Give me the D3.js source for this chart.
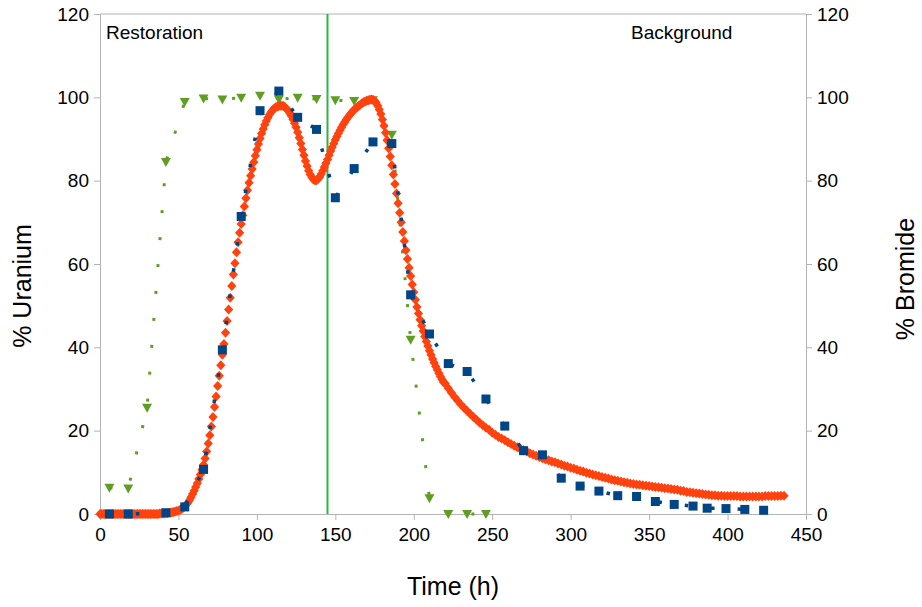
<!DOCTYPE html>
<html>
<head>
<meta charset="utf-8">
<script src="https://cdn.jsdelivr.net/npm/d3@7"></script>
<style>
  body { margin: 0; background: #fff; }
  text { font-family: "Liberation Sans", Arial, sans-serif; fill: #000; }
</style>
</head>
<body>
<svg id="chart" width="922" height="607"></svg>
<script>
// uranium data (blue squares), % of max
const uTime = [6,18,42,54,66,78,90,102,114,126,138,150,162,174,186,198,210,222,234,246,258,270,282,294,306,318,330,342,354,366,378,387,399,411,423];
const uranium = [0,0,0.3,1.7,10.7,39.4,71.4,96.8,101.5,95.2,92.3,75.9,82.9,89.3,88.9,52.6,43.2,36.1,34.2,27.6,21.1,15.2,14.2,8.6,6.7,5.5,4.4,4.2,3.0,2.3,1.9,1.4,1.3,1.1,0.9];

// bromide data (green triangles), right axis
const brTime = [6,18,30,42,54,66,78,90,102,114,126,138,150,162,174,186,198,210,222,234,246];
const bromide = [6.3,6.1,25.5,84.5,98.9,99.7,99.5,99.9,100.4,99.5,99.9,99.6,99.3,99.1,99.3,91,41.8,3.8,0,0,0];

// model curve (orange diamonds): hourly from t=0 to 219
const modelA = [
  0,0,0,0,0,0,0,0,0,0,
  0,0,0,0,0,0,0,0,0,0,
  0,0,0,0,0,0,0,0,0,0,
  0,0,0,0,0,0,0,0,0.1,0.1,
  0.1,0.1,0.2,0.2,0.3,0.3,0.4,0.5,0.6,0.7,
  0.8,1.0,1.2,1.5,1.8,2.2,2.7,3.3,4.0,4.8,
  5.6,6.5,7.4,8.4,9.5,10.6,11.8,13.3,15.0,16.9,
  18.9,21.0,23.3,25.7,28.2,30.7,33.2,35.7,38.2,40.8,
  43.5,46.3,49.1,51.9,54.7,57.5,60.2,62.8,65.2,67.5,
  69.6,71.7,73.8,75.8,77.7,79.5,81.2,82.8,84.4,86.0,
  87.4,88.8,90.1,91.3,92.4,93.4,94.3,95.1,95.8,96.4,
  96.9,97.3,97.6,97.8,97.9,98.0,98.0,97.9,97.6,97.2,
  96.8,96.2,95.5,94.7,93.8,92.8,91.6,90.3,88.9,87.5,
  86.1,84.7,83.5,82.4,81.5,80.8,80.3,80.1,80.1,80.4,
  80.9,81.6,82.4,83.3,84.2,85.1,86.1,87.1,88.0,88.9,
  89.8,90.6,91.4,92.1,92.8,93.5,94.1,94.7,95.2,95.7,
  96.2,96.6,97.0,97.4,97.7,98.0,98.3,98.6,98.8,99.0,
  99.2,99.3,99.4,99.5,99.4,99.2,98.7,98.0,97.1,96.0,
  94.7,93.2,91.5,89.7,87.8,85.8,83.7,81.5,79.2,76.9,
  74.6,72.3,70.0,67.7,65.5,63.3,61.2,59.1,57.1,55.1,
  53.2,51.4,49.7,48.1,46.6,45.2,43.9,42.6,41.4,40.3,
  39.2,38.2,37.2,36.3,35.4,34.6,33.8,33.0,32.3,31.6
];
// model curve: every 2 h from t=220 to 436
const modelB = [
  31.3,30.2,29.1,28.1,27.2,26.3,25.5,24.7,24.0,23.3,
  22.6,21.9,21.3,20.7,20.2,19.5,19.0,18.5,18.1,17.7,
  17.2,16.8,16.4,16.0,15.6,15.3,15.0,14.6,14.3,14.0,
  13.7,13.4,13.1,12.9,12.6,12.4,12.1,11.9,11.6,11.4,
  11.1,10.9,10.6,10.4,10.2,9.9,9.7,9.5,9.3,9.1,
  8.9,8.7,8.5,8.3,8.1,8.0,7.8,7.6,7.5,7.3,
  7.2,7.1,7.0,6.9,6.8,6.7,6.6,6.5,6.4,6.3,
  6.2,6.1,6.0,5.9,5.8,5.6,5.5,5.3,5.2,5.1,
  5.0,4.9,4.8,4.7,4.6,4.5,4.5,4.4,4.4,4.3,
  4.3,4.3,4.3,4.3,4.2,4.2,4.2,4.2,4.2,4.2,
  4.2,4.2,4.3,4.3,4.3,4.3,4.3,4.4,4.4
];

const switchTime = 145;
const xTicks = d3.range(0, 451, 50);
const yTicks = d3.range(0, 121, 20);

// model points as [t, value]
const model = modelA.map((v, i) => [i, v])
  .concat(modelB.map((v, i) => [220 + 2 * i, v]));

const svg = d3.select("#chart");
const margin = { left: 100, right: 116, top: 14, bottom: 93 };
const W = 922, H = 607;

const x = d3.scaleLinear().domain([0, 450]).range([margin.left, W - margin.right]);
const y = d3.scaleLinear().domain([0, 120]).range([H - margin.bottom, margin.top]);
const y2 = d3.scaleLinear().domain([0, 120]).range([H - margin.bottom, margin.top]);

const axisColor = "#b3b3b3";

// frame top
svg.append("line")
  .attr("x1", x(0)).attr("x2", x(450))
  .attr("y1", y(120)).attr("y2", y(120))
  .attr("stroke", axisColor);

function styleAxis(g) {
  g.selectAll(".domain").attr("stroke", axisColor);
  g.selectAll(".tick line").attr("stroke", axisColor);
  g.selectAll(".tick text")
    .style("font-family", "Liberation Sans, Arial, sans-serif")
    .style("font-size", "19px")
    .attr("fill", "#000");
}

svg.append("g")
  .attr("transform", `translate(0,${y(0)})`)
  .call(d3.axisBottom(x).tickValues(xTicks).tickSize(6).tickSizeOuter(0).tickPadding(8))
  .call(styleAxis);

svg.append("g")
  .attr("transform", `translate(${x(0)},0)`)
  .call(d3.axisLeft(y).tickValues(yTicks).tickSize(6).tickSizeOuter(0).tickPadding(5))
  .call(styleAxis);

svg.append("g")
  .attr("transform", `translate(${x(450)},0)`)
  .call(d3.axisRight(y2).tickValues(yTicks).tickSize(6).tickSizeOuter(0).tickPadding(5))
  .call(styleAxis);

// switch line
svg.append("line")
  .attr("x1", x(switchTime)).attr("x2", x(switchTime))
  .attr("y1", y(120)).attr("y2", y(0))
  .attr("stroke", "#2fb24a").attr("stroke-width", 2);

// bromide: dotted line + triangles
const green = "#5f9e22";
svg.append("path")
  .datum(brTime.map((t, i) => [t, bromide[i]]))
  .attr("fill", "none")
  .attr("stroke", green)
  .attr("stroke-width", 3)
  .attr("stroke-dasharray", "3,24")
  .attr("d", d3.line().x(d => x(d[0])).y(d => y2(d[1])));

svg.append("g").selectAll("path")
  .data(brTime.map((t, i) => [t, bromide[i]]))
  .join("path")
  .attr("transform", d => `translate(${x(d[0])},${y2(d[1])})`)
  .attr("d", "M-5,-4L5,-4L0,5Z")
  .attr("fill", green);

// model diamonds
svg.append("g").selectAll("path")
  .data(model)
  .join("path")
  .attr("transform", d => `translate(${x(d[0])},${y(d[1])})`)
  .attr("d", "M0,-5L4.6,0L0,5L-4.6,0Z")
  .attr("fill", "#ff420e");

// uranium: dotted line + squares
const blue = "#004586";
svg.append("path")
  .datum(uTime.map((t, i) => [t, uranium[i]]))
  .attr("fill", "none")
  .attr("stroke", blue)
  .attr("stroke-width", 3.5)
  .attr("stroke-dasharray", "3.5,23")
  .attr("d", d3.line().x(d => x(d[0])).y(d => y(d[1])));

svg.append("g").selectAll("rect")
  .data(uTime.map((t, i) => [t, uranium[i]]))
  .join("rect")
  .attr("x", d => x(d[0]) - 4.5)
  .attr("y", d => y(d[1]) - 4.5)
  .attr("width", 9).attr("height", 9)
  .attr("fill", blue);

// phase labels
svg.append("text").attr("x", 106).attr("y", 39)
  .style("font-size", "19px").text("Restoration");
svg.append("text").attr("x", 631).attr("y", 39)
  .style("font-size", "19px").text("Background");

// axis titles
svg.append("text")
  .attr("transform", `translate(${x(225)},595)`)
  .attr("text-anchor", "middle")
  .style("font-size", "25px").text("Time (h)");

svg.append("text")
  .attr("transform", "translate(31,286) rotate(-90)")
  .attr("text-anchor", "middle")
  .style("font-size", "25px").text("% Uranium");

svg.append("text")
  .attr("transform", "translate(914,279) rotate(-90)")
  .attr("text-anchor", "middle")
  .style("font-size", "25px").text("% Bromide");
</script>
</body>
</html>
